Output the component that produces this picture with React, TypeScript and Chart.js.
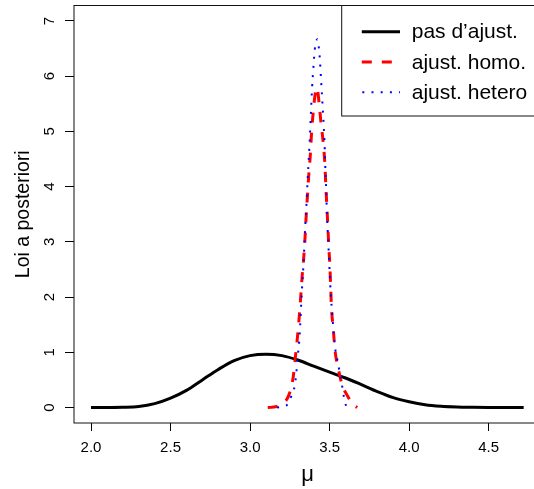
import React, { useEffect, useRef } from "react";
import { Chart, registerables } from "chart.js";

Chart.register(...registerables);

const FONT = "'Liberation Sans', Arial, Helvetica, sans-serif";

// ---- texts & ticks ----
const seriesLabels = ["pas d\u2019ajust.", "ajust. homo.", "ajust. hetero"];
const xTickValues = [2.0, 2.5, 3.0, 3.5, 4.0, 4.5];
const yTickValues = [0, 1, 2, 3, 4, 5, 6, 7];
const xAxisTitle = "\u03bc";
const yAxisTitle = "Loi a posteriori";

// ---- series: no adjustment (black, solid) ----
const noAdjMu = [2.0, 2.1, 2.2, 2.3, 2.4, 2.5, 2.6, 2.7, 2.8, 2.9, 3.0, 3.1, 3.2, 3.3, 3.4, 3.5, 3.6, 3.7, 3.8, 3.9, 4.0, 4.1, 4.2, 4.3, 4.4, 4.5, 4.6, 4.72];
const noAdjDensity = [0, 0.001, 0.004, 0.018, 0.07, 0.17, 0.31, 0.5, 0.69, 0.85, 0.94, 0.966, 0.94, 0.86, 0.75, 0.64, 0.535, 0.415, 0.29, 0.18, 0.105, 0.05, 0.022, 0.009, 0.004, 0.0015, 0.0005, 0];

// ---- series: homoscedastic adjustment (red, dashed) ----
const homoMu = [3.111, 3.128, 3.16, 3.202, 3.243, 3.271, 3.285, 3.298, 3.309, 3.319, 3.328, 3.338, 3.346, 3.353, 3.361, 3.369, 3.38, 3.386, 3.397, 3.408, 3.42, 3.435, 3.447, 3.458, 3.47, 3.476, 3.483, 3.489, 3.495, 3.502, 3.507, 3.512, 3.523, 3.533, 3.554, 3.58, 3.611, 3.652, 3.674];
const homoDensity = [0, 0.003, 0.015, 0.07, 0.22, 0.55, 0.92, 1.28, 1.64, 2.03, 2.4, 2.74, 3.1, 3.48, 3.85, 4.21, 4.63, 4.96, 5.35, 5.65, 5.79, 5.48, 5.12, 4.85, 4.42, 4.03, 3.63, 3.28, 2.91, 2.55, 2.16, 1.79, 1.43, 1.06, 0.71, 0.4, 0.22, 0.04, 0];

// ---- series: heteroscedastic adjustment (blue, dotted) ----
const heteroMu = [3.17, 3.229, 3.26, 3.281, 3.29, 3.298, 3.309, 3.315, 3.321, 3.328, 3.336, 3.342, 3.348, 3.355, 3.361, 3.368, 3.375, 3.382, 3.39, 3.398, 3.407, 3.415, 3.424, 3.432, 3.439, 3.445, 3.452, 3.458, 3.464, 3.47, 3.474, 3.479, 3.483, 3.489, 3.495, 3.501, 3.508, 3.517, 3.527, 3.536, 3.546, 3.556, 3.569, 3.58, 3.59, 3.605, 3.611];
const heteroDensity = [0, 0.04, 0.21, 0.4, 0.6, 0.88, 1.2, 1.48, 1.85, 2.23, 2.6, 2.97, 3.34, 3.71, 4.08, 4.45, 4.85, 5.3, 5.8, 6.15, 6.49, 6.63, 6.67, 6.52, 6.3, 6.0, 5.65, 5.36, 5.05, 4.63, 4.25, 3.89, 3.52, 3.15, 2.78, 2.4, 2.03, 1.67, 1.29, 1.05, 0.9, 0.75, 0.55, 0.37, 0.19, 0.02, 0];

const seriesColors = ["#000000", "#ff0000", "#0000ff"];
const seriesWidths = [3, 3, 2];
const seriesDashes: number[][] = [[], [10, 10], [2, 7.2]];

const zip = (xs: number[], ys: number[]) => xs.map((x, i) => ({ x, y: ys[i] }));

const rStylePlugin = {
  id: "rStyle",
  afterDraw(chart: any) {
    const { ctx, chartArea: a, scales } = chart;
    ctx.save();
    // plot box
    ctx.strokeStyle = "#111";
    ctx.lineWidth = 1;
    ctx.setLineDash([]);
    ctx.strokeRect(a.left, a.top, a.right - a.left, a.bottom - a.top);

    // y tick labels (rotated, parallel to axis)
    ctx.fillStyle = "#000";
    ctx.font = `15px ${FONT}`;
    ctx.textAlign = "center";
    ctx.textBaseline = "alphabetic";
    for (const v of yTickValues) {
      const y = scales.y.getPixelForValue(v);
      ctx.save();
      ctx.translate(a.left - 20.1, y);
      ctx.rotate(-Math.PI / 2);
      ctx.fillText(String(v), 0, 0);
      ctx.restore();
    }

    // legend box
    const lx = 341.7;
    const ly = a.top;
    const lb = 116;
    ctx.fillStyle = "#fff";
    ctx.fillRect(lx, ly, 300, lb - ly);
    ctx.strokeStyle = "#111";
    ctx.lineWidth = 1;
    ctx.strokeRect(lx, ly, 300, lb - ly);

    ctx.font = `21px ${FONT}`;
    ctx.textAlign = "left";
    ctx.textBaseline = "alphabetic";
    seriesLabels.forEach((label, i) => {
      const ry = a.top + 26.2 + i * 30.3;
      ctx.beginPath();
      ctx.strokeStyle = seriesColors[i];
      ctx.lineWidth = seriesWidths[i];
      ctx.lineCap = "butt";
      ctx.setLineDash(seriesDashes[i]);
      ctx.moveTo(i === 2 ? 362.3 : 361.8, ry);
      ctx.lineTo(400, ry);
      ctx.stroke();
      ctx.setLineDash([]);
      ctx.fillStyle = "#000";
      ctx.fillText(label, 411.7, ry + 6.5);
    });
    ctx.restore();
  },
};

export default function App() {
  const canvasRef = useRef<HTMLCanvasElement | null>(null);

  useEffect(() => {
    if (!canvasRef.current) return;
    const seriesMu = [noAdjMu, homoMu, heteroMu];
    const seriesDensity = [noAdjDensity, homoDensity, heteroDensity];
    const chart = new Chart(canvasRef.current, {
      type: "line",
      data: {
        datasets: seriesLabels.map((label, i) => ({
          label,
          data: zip(seriesMu[i], seriesDensity[i]),
          borderColor: seriesColors[i],
          backgroundColor: seriesColors[i],
          borderWidth: seriesWidths[i],
          borderDash: seriesDashes[i],
          borderCapStyle: "butt",
          pointRadius: 0,
          fill: false,
          cubicInterpolationMode: "monotone",
          order: 3 - i,
        })),
      },
      options: {
        responsive: false,
        devicePixelRatio: 1,
        animation: false,
        events: [],
        layout: { padding: { top: 5.5, left: 0, right: 0, bottom: 0 } },
        plugins: {
          legend: { display: false },
          tooltip: { enabled: false },
        },
        scales: {
          x: {
            type: "linear",
            position: "bottom",
            min: 1.893,
            max: 4.829,
            afterBuildTicks: (s: any) => {
              s.ticks = xTickValues.map((v) => ({ value: v }));
            },
            afterFit: (s: any) => {
              s.height = 66;
            },
            ticks: {
              autoSkip: false,
              maxRotation: 0,
              minRotation: 0,
              padding: 8,
              color: "#000",
              font: { family: FONT, size: 15 },
              callback: (v: any) => Number(v).toFixed(1),
            },
            grid: {
              drawOnChartArea: false,
              drawTicks: true,
              tickLength: 8,
              color: "#000",
              lineWidth: 1,
            },
            border: { display: false },
            title: {
              display: true,
              text: xAxisTitle,
              color: "#000",
              font: { family: FONT, size: 22 },
              padding: { top: 0, bottom: 1.2 },
            },
          },
          y: {
            type: "linear",
            min: -0.28,
            max: 7.28,
            afterBuildTicks: (s: any) => {
              s.ticks = yTickValues.map((v) => ({ value: v }));
            },
            afterFit: (s: any) => {
              s.width = 74;
            },
            ticks: { display: false },
            grid: {
              drawOnChartArea: false,
              drawTicks: true,
              tickLength: 9,
              color: "#000",
              lineWidth: 1,
            },
            border: { display: false },
            title: {
              display: true,
              text: yAxisTitle,
              color: "#000",
              font: { family: FONT, size: 19.5 },
              padding: { top: 11.5, bottom: 0 },
            },
          },
        },
      },
      plugins: [rStylePlugin],
    } as any);
    return () => chart.destroy();
  }, []);

  return (
    <div style={{ position: "fixed", left: 0, top: 0, width: 534, height: 489, overflow: "hidden", background: "#fff" }}>
      <canvas ref={canvasRef} width={541} height={489} style={{ display: "block" }} />
    </div>
  );
}
